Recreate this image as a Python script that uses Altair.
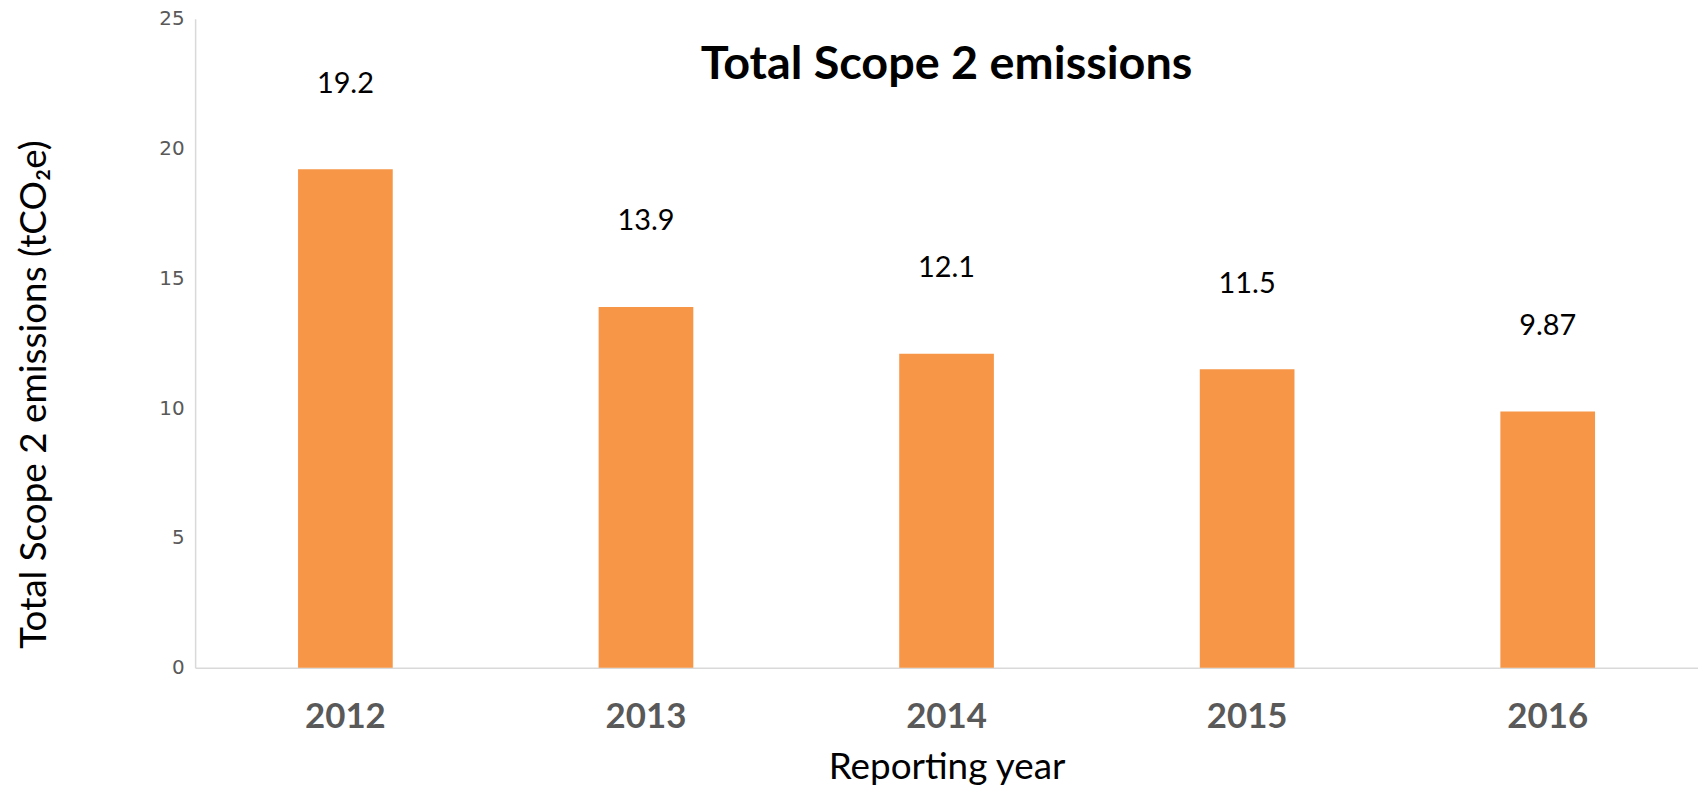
import altair as alt
import pandas as pd

years = ["2012", "2013", "2014", "2015", "2016"]
emissions = [19.2, 13.9, 12.1, 11.5, 9.87]
labels = ["19.2", "13.9", "12.1", "11.5", "9.87"]
y_ticks = [0, 5, 10, 15, 20, 25]

df = pd.DataFrame({"year": years, "value": emissions, "label": labels})

W, H = 1510, 652
PAD_L, PAD_T, PAD_B = 188, 9, 119

x = alt.X(
    "year:N",
    sort=years,
    scale=alt.Scale(paddingInner=0.685, paddingOuter=0.3425),
    axis=alt.Axis(
        title="Reporting year",
        titleFont="Lato",
        titleFontSize=37,
        titleFontWeight="normal",
        titleColor="#000000",
        titleBaseline="alphabetic",
        titleY=111,
        labelAngle=0,
        labelFont="Lato",
        labelFontSize=35,
        labelFontWeight="bold",
        labelColor="#595959",
        labelBaseline="middle",
        labelPadding=49,
        ticks=False,
        domainColor="#D9D9D9",
        domainWidth=1.5,
        grid=False,
    ),
)

y = alt.Y(
    "value:Q",
    scale=alt.Scale(domain=[0, 25], nice=False),
    axis=alt.Axis(
        title="Total Scope 2 emissions (tCO\u2082e)",
        titleFont="Lato",
        titleFontSize=37,
        titleFontWeight="normal",
        titleColor="#000000",
        titleAngle=270,
        titleBaseline="middle",
        titleAlign="center",
        titleX=-161,
        titleY=377,
        values=y_ticks,
        labelFont="DejaVu Sans",
        labelFontSize=20,
        labelColor="#595959",
        labelPadding=11,
        ticks=False,
        domainColor="#D9D9D9",
        domainWidth=1.5,
        grid=False,
    ),
)

bars = alt.Chart(df).mark_bar(color="#F79646").encode(x=x, y=y)

text = alt.Chart(df).mark_text(
    font="Lato", fontSize=29, color="#000000", baseline="middle", dy=-86
).encode(x=alt.X("year:N", sort=years), y=alt.Y("value:Q"), text="label:N")

chart = (
    alt.layer(bars, text)
    .properties(
        width=W,
        height=H,
        title=alt.TitleParams(
            text="Total Scope 2 emissions",
            font="Lato",
            fontSize=47,
            fontWeight="bold",
            color="#000000",
            anchor="middle",
            baseline="alphabetic",
            offset=-52,
            dy=65,
        ),
        padding={"left": PAD_L, "top": PAD_T, "right": 0, "bottom": PAD_B},
        autosize=alt.AutoSizeParams(type="none"),
    )
    .configure_view(stroke=None)
)

chart.save("out.html", embed_options={"renderer": "svg", "actions": False})
